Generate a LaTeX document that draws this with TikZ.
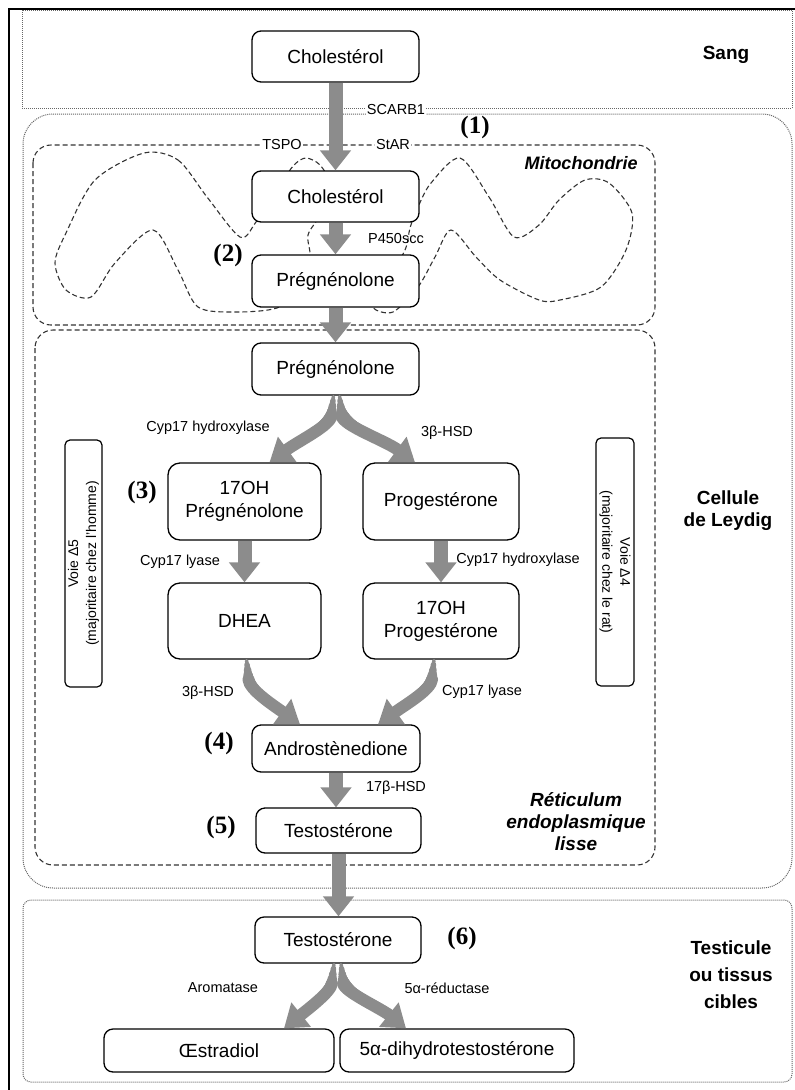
\documentclass[tikz,border=0pt]{standalone}
\usepackage{fontspec}
\setmainfont{Liberation Sans}
\newfontfamily\numfont{Liberation Serif}
\usetikzlibrary{arrows.meta}
\usetikzlibrary{positioning}

\begin{document}
\begin{tikzpicture}
	[x=1pt, y=1pt,
	box/.style = {draw, fill=white, line width=1.3pt, rounded corners=9pt, align=center, inner sep=0pt, font=\fontsize{19}{23}\selectfont},
	lab/.style = {inner sep=1pt, font=\fontsize{14.5}{17}\selectfont},
	reg/.style = {align=center, font=\bfseries\fontsize{19}{22}\selectfont},
	regit/.style = {align=center, font=\bfseries\itshape\fontsize{19}{22}\selectfont},
	num/.style = {font=\numfont\bfseries\fontsize{25}{28}\selectfont},
	voie/.style = {draw, line width=1.2pt, rounded corners=5pt, align=center, inner sep=0pt, font=\fontsize{14}{18}\selectfont},
	dotline/.style = {densely dotted, line width=1pt, draw=black!60},
	dashline/.style = {dash pattern=on 5pt off 3pt, line width=1.1pt, draw=black!80},
	fatarrow/.style = {draw=black!45, line width=14pt, -{Triangle[width=30pt,length=20pt]}},
	bendarrow/.style = {draw=black!45, line width=12pt, line cap=round, shorten <=20pt, -{Triangle[width=30pt,length=22pt]},
		preaction={draw=black!45, -, line cap=round, line width=3.5pt, shorten <=1pt, shorten >=20pt},
		preaction={draw=black!45, -, line cap=round, line width=5.5pt, shorten <=5pt, shorten >=20pt},
		preaction={draw=black!45, -, line cap=round, line width=7.5pt, shorten <=10pt, shorten >=20pt},
		preaction={draw=black!45, -, line cap=round, line width=9.5pt, shorten <=15pt, shorten >=20pt}}
	]
	\useasboundingbox (0,0) rectangle (795,-1090);

	% cadre et compartiments
	\draw[line width=2.4pt] (9,-1090) -- (9,-9) -- (795,-9);
	\draw[dotline] (22,-10) rectangle (792,-108);
	\draw[dotline, rounded corners=30pt] (23,-114) rectangle (792,-888);
	\draw[dashline, rounded corners=18pt] (33,-145) rectangle (655,-325);
	\draw[dashline, rounded corners=18pt] (35,-330) rectangle (655,-865);
	\draw[dotline, rounded corners=8pt] (23,-900) rectangle (792,-1082);

	% crêtes mitochondriales
	\draw[dashline] plot[smooth cycle] coordinates {(144,-153) (178,-160) (207,-197) (240,-237) (256,-222) (280,-185) (294,-165) (306,-158) (320,-165) (330,-185) (320,-215) (308,-235) (310,-258) (300,-290) (277,-308) (236,-312) (198,-307) (178,-270) (153,-230) (115,-263) (91,-297) (66,-290) (55,-263) (66,-233) (95,-180)};
	\draw[dashline] plot[smooth cycle] coordinates {(460,-158) (489,-197) (514,-237) (539,-225) (559,-200) (585,-180) (609,-183) (632,-213) (626,-250) (601,-287) (560,-300) (539,-300) (500,-280) (476,-257) (451,-230) (435,-257) (418,-287) (393,-312) (373,-307) (385,-285) (405,-250) (410,-228) (418,-207) (431,-183)};

	% molécules
	\node[box, minimum width=167pt, minimum height=51pt] (chol1) at (335.5,-56.5) {Cholestérol};
	\node[box, minimum width=167pt, minimum height=51pt] (chol2) at (335.5,-196.5) {Cholestérol};
	\node[box, minimum width=167pt, minimum height=52pt] (preg1) at (335.5,-281) {Prégnénolone};
	\node[box, minimum width=167pt, minimum height=52pt] (preg2) at (335.5,-369) {Prégnénolone};
	\node[box, rounded corners=12pt, minimum width=153pt, minimum height=77pt] (ohpreg) at (244.5,-501.5) {17OH\\Prégnénolone};
	\node[box, rounded corners=12pt, minimum width=156pt, minimum height=77pt] (proges) at (441,-501.5) {Progestérone};
	\node[box, rounded corners=12pt, minimum width=153pt, minimum height=76pt] (dhea) at (244.5,-621) {DHEA};
	\node[box, rounded corners=12pt, minimum width=156pt, minimum height=76pt] (ohprog) at (441,-621) {17OH\\Progestérone};
	\node[box, minimum width=168pt, minimum height=47pt] (andro) at (336,-748.5) {Androstènedione};
	\node[box, minimum width=165pt, minimum height=45pt] (testo1) at (338.5,-830.5) {Testostérone};
	\node[box, minimum width=166pt, minimum height=46pt] (testo2) at (338,-940) {Testostérone};
	\node[box, minimum width=230pt, minimum height=43pt] (oestr) at (219,-1050.5) {Œstradiol};
	\node[box, minimum width=234pt, minimum height=43pt] (dht) at (457,-1050.5) {5α-dihydrotestostérone};

	\node[voie, rotate=90, minimum width=247pt, minimum height=37pt] (voie5) at (83.5,-563.5) {Voie Δ5\\(majoritaire chez l'homme)};
	\node[voie, rotate=-90, minimum width=248pt, minimum height=38pt] (voie4) at (615,-562) {Voie Δ4\\(majoritaire chez le rat)};

	% textes
	\node[reg] (sang) at (726,-55) {Sang};
	\node[lab, fill=white] (scarb) at (396,-110) {SCARB1};
	\node[num] (n1) at (475,-127) {(1)};
	\node[lab, fill=white] (tspo) at (282,-145) {TSPO};
	\node[lab, fill=white] (star) at (393,-145) {StAR};
	\node[regit, font=\bfseries\itshape\fontsize{18}{21}\selectfont] (mito) at (581,-163) {Mitochondrie};
	\node[lab] (p450) at (396,-239) {P450scc};
	\node[num] (n2) at (228,-255) {(2)};
	\node[lab] (hydro1) at (208,-428) {Cyp17 hydroxylase};
	\node[lab] (hsd1) at (447,-433) {3β-HSD};
	\node[num] (n3) at (142,-492) {(3)};
	\node[lab] (lyase1) at (180,-562) {Cyp17 lyase};
	\node[lab] (hydro2) at (518,-560) {Cyp17 hydroxylase};
	\node[lab] (hsd2) at (208,-693) {3β-HSD};
	\node[lab] (lyase2) at (482,-692) {Cyp17 lyase};
	\node[num] (n4) at (219,-743) {(4)};
	\node[lab] (hsd3) at (396,-788) {17β-HSD};
	\node[num] (n5) at (221,-827) {(5)};
	\node[regit] (reti) at (576,-822) {Réticulum\\endoplasmique\\lisse};
	\node[reg] (leydig) at (728,-511) {Cellule\\de Leydig};
	\node[num] (n6) at (462,-938) {(6)};
	\node[reg, font=\bfseries\fontsize{19}{27}\selectfont] (cibles) at (731,-975) {Testicule\\ou tissus\\cibles};
	\node[lab] (aroma) at (223,-988) {Aromatase};
	\node[lab] (reduc) at (447,-988) {5α-réductase};

	% flèches
	\draw[fatarrow] (chol1) -- (chol2);
	\draw[fatarrow] (chol2) -- (preg1);
	\draw[fatarrow] (preg1) -- (preg2);
	\draw[bendarrow] ([xshift=-2pt]preg2.south) .. controls +(-3,-30) and +(30,22) .. ([xshift=25pt]ohpreg.north);
	\draw[bendarrow] ([xshift=4pt]preg2.south) .. controls +(3,-30) and +(-30,22) .. ([xshift=-26pt]proges.north);
	\draw[fatarrow] (ohpreg) -- (dhea);
	\draw[fatarrow] (proges) -- (ohprog);
	\draw[bendarrow] ([xshift=2pt]dhea.south) .. controls +(3,-30) and +(-28,20) .. ([xshift=-36pt]andro.north);
	\draw[bendarrow] ([xshift=-7pt]ohprog.south) .. controls +(-3,-30) and +(28,20) .. ([xshift=42pt]andro.north);
	\draw[fatarrow] (andro.south) -- (andro.south |- testo1.north);
	\draw[fatarrow] (testo1.south) -- (testo1.south |- testo2.north);
	\draw[bendarrow] ([xshift=-4pt]testo2.south) .. controls +(-3,-28) and +(25,20) .. ([xshift=65pt]oestr.north);
	\draw[bendarrow] ([xshift=3pt]testo2.south) .. controls +(3,-28) and +(-25,20) .. ([xshift=-51pt]dht.north);
\end{tikzpicture}
\end{document}
